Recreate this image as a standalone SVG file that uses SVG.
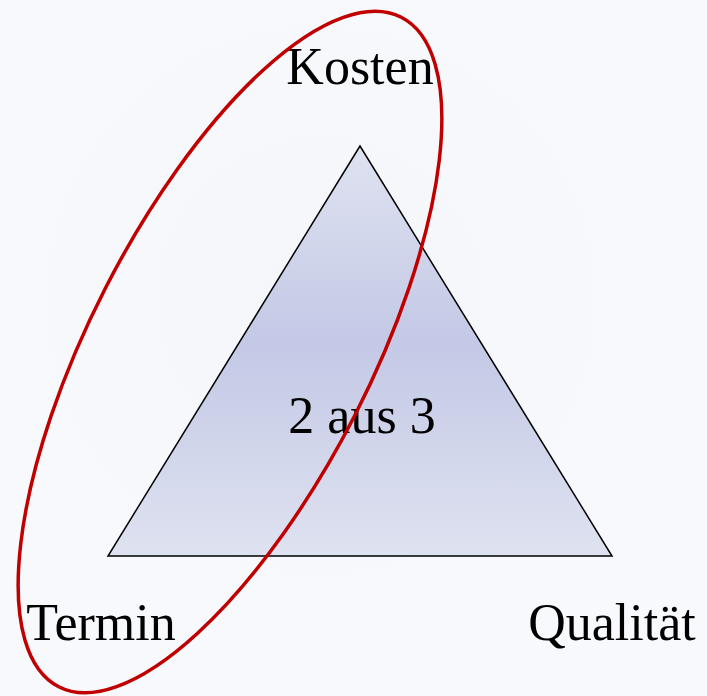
<svg xmlns="http://www.w3.org/2000/svg" width="707" height="696" viewBox="0 0 707 696">
<defs>
<linearGradient id="tri" x1="0" y1="146" x2="0" y2="556" gradientUnits="userSpaceOnUse">
<stop offset="0" stop-color="#dfe2f0"/>
<stop offset="0.48" stop-color="#c3c9e6"/>
<stop offset="1" stop-color="#dfe2f0"/>
</linearGradient>
<radialGradient id="bg" cx="320" cy="300" r="330" gradientUnits="userSpaceOnUse">
<stop offset="0" stop-color="#f5f6fa"/>
<stop offset="1" stop-color="#f8f9fc"/>
</radialGradient>
</defs>
<style>
.lbl{font-family:"Liberation Serif","DejaVu Serif",serif;font-size:52px;fill:#000;text-anchor:middle}
</style>
<rect width="707" height="696" fill="url(#bg)"/>
<g id="triangle">
<polygon points="360,146 108,556 612,556" fill="url(#tri)" stroke="#000" stroke-width="1.5" stroke-linejoin="miter"/>
<text class="lbl" x="362" y="433">2 aus 3</text>
</g>
<g id="kosten"><text class="lbl" x="360" y="84">Kosten</text></g>
<g id="termin"><text class="lbl" x="101" y="640">Termin</text></g>
<g id="qualitaet"><text class="lbl" x="612" y="640">Qualität</text></g>
<g id="connectors">
<ellipse cx="230" cy="352" rx="376" ry="140" transform="rotate(-62.9 230 352)" fill="none" stroke="#c00000" stroke-width="3.5"/>
</g>
</svg>
